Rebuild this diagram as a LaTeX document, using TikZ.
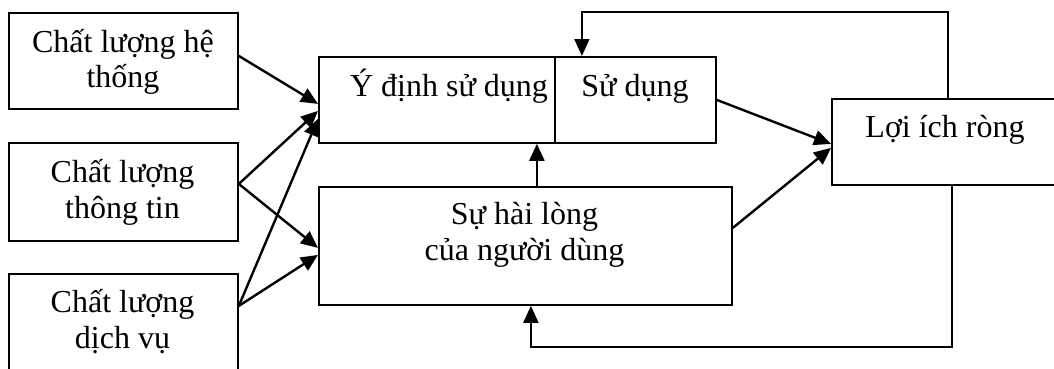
\documentclass[tikz,border=0pt]{standalone}
\usepackage{fontspec}
\setmainfont{Liberation Serif}
\usetikzlibrary{arrows.meta}

\begin{document}
\begin{tikzpicture}[x=1pt, y=-1pt,
  box/.style={draw, line width=1.8pt, inner sep=0pt, anchor=north west},
  lbl/.style={anchor=base, inner sep=0pt, font=\fontsize{32}{36}\selectfont},
  link/.style={line width=2.4pt, -{Triangle[length=17pt, width=15pt]}},
  loopline/.style={line width=1.8pt, -{Triangle[length=17pt, width=15pt]}}]
\useasboundingbox (0,0) rectangle (1054,368);

% boxes
\node[box, minimum width=229pt, minimum height=96pt]  (sys)    at (8,12)   {};
\node[box, minimum width=229pt, minimum height=98pt]  (info)   at (8,142)  {};
\node[box, minimum width=229pt, minimum height=100pt] (serv)   at (8,273)  {};
\node[box, minimum width=236pt, minimum height=86pt]  (intent) at (318,56) {};
\node[box, minimum width=161pt, minimum height=86pt]  (use)    at (554,56) {};
\node[box, minimum width=413pt, minimum height=118pt] (sat)    at (318,186) {};
\node[box, minimum width=230pt, minimum height=86pt]  (net)    at (831,98) {};

% labels
\node[lbl] (sysA)    at (123,52)  {Chất lượng hệ};
\node[lbl] (sysB)    at (123,87)  {thống};
\node[lbl] (infoA)   at (122.5,182) {Chất lượng};
\node[lbl] (infoB)   at (122.5,218) {thông tin};
\node[lbl] (servA)   at (122.5,312) {Chất lượng};
\node[lbl] (servB)   at (122.5,348) {dịch vụ};
\node[lbl] (intentA) at (449,96)  {Ý định sử dụng};
\node[lbl] (useA)    at (635,96)  {Sử dụng};
\node[lbl] (satA)    at (524.5,224) {Sự hài lòng};
\node[lbl] (satB)    at (524.5,260) {của người dùng};
\node[lbl] (netA)    at (945,137) {Lợi ích ròng};

% quality dimensions
\draw[link] ([yshift=5pt]sys.east)   -- ([yshift=-4pt]intent.west);
\draw[link] ([yshift=8pt]info.east)  -- ([yshift=-11pt]intent.west);
\draw[link] ([yshift=8pt]info.east)  -- ([yshift=-2pt]sat.west);
\draw[link] ([yshift=18pt]serv.east) -- ([yshift=-19pt]intent.west);
\draw[link] ([yshift=18pt]serv.east) -- ([yshift=-9pt]sat.west);

% satisfaction to intention
\coordinate (satup) at ([xshift=11.5pt]sat.north);
\draw[link] (satup) -- (satup |- intent.south);

% towards net benefits
\draw[link] (use.east) -- ([yshift=-2pt]net.west);
\draw[link] ([yshift=18pt]sat.east) -- ([yshift=-6pt]net.west);

% feedback loops
\coordinate (toprow) at (0,12);
\coordinate (botrow) at (0,347);
\coordinate (netup) at ([xshift=1pt]net.north);
\coordinate (netdown) at ([xshift=5pt]net.south);
\draw[loopline] (netup) -- (netup |- toprow) -| ([xshift=-53.5pt]use.north);
\draw[loopline] (netdown) -- (netdown |- botrow) -| ([xshift=5.5pt]sat.south);
\end{tikzpicture}
\end{document}
